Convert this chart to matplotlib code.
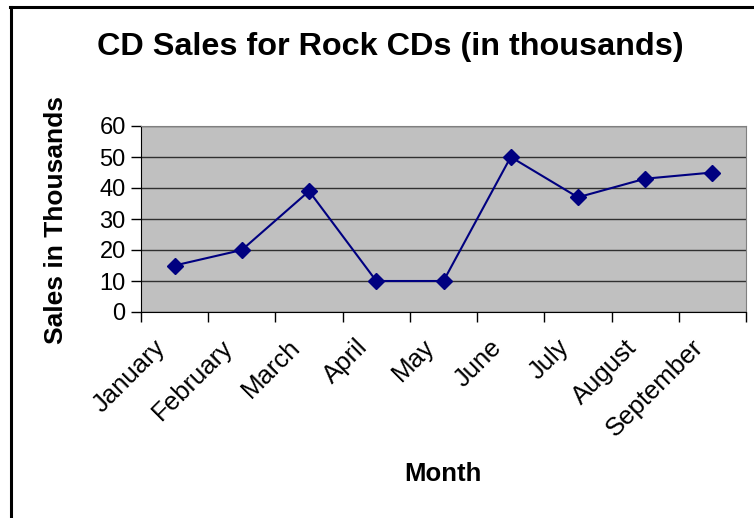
import matplotlib
matplotlib.use("Agg")
import matplotlib.pyplot as plt
from matplotlib.lines import Line2D
from matplotlib.transforms import ScaledTranslation
import numpy as np

months = ["January", "February", "March", "April", "May", "June",
          "July", "August", "September"]
sales = [15, 20, 39, 10, 10, 50, 37, 43, 45]
yticks = [0, 10, 20, 30, 40, 50, 60]

plt.rcParams['font.family'] = ['Liberation Sans', 'DejaVu Sans']

W, H = 754, 518
fig = plt.figure(figsize=(W / 100, H / 100), dpi=100)
ax = fig.add_axes([141 / W, 1 - 312 / H, (746 - 141) / W, (312 - 126) / H])
ax.set_facecolor('#C0C0C0')

x = np.arange(len(months))
ax.plot(x, sales, color='#000080', lw=1.5, marker='D', ms=8.5,
        mfc='#000080', mec='#000080', zorder=3)

ax.set_xlim(-0.5, len(months) - 0.5)
ax.set_ylim(0, 60)
ax.set_yticks(yticks)
ax.yaxis.grid(True, color='#303030', lw=1)
ax.set_axisbelow(True)

# category ticks between months, labels drawn at the centres
ax.set_xticks(np.arange(-0.5, len(months)))
ax.set_xticklabels([])
ax.tick_params(axis='x', length=7, width=1, color='black')
ax.tick_params(axis='y', length=7, width=1, labelsize=17, pad=4)
lbl_tr = ax.get_xaxis_transform() + ScaledTranslation(-21 / 100, -23 / 100,
                                                      fig.dpi_scale_trans)
for xi, m in zip(x, months):
    ax.text(xi, 0, m, transform=lbl_tr, rotation=45, ha='right', va='top',
            rotation_mode='anchor', fontsize=18.5)

for side in ['top', 'right']:
    ax.spines[side].set_color('#808080')
ax.spines['left'].set_color('black')
ax.spines['bottom'].set_color('black')

ax.set_xlabel('Month', fontsize=18.5, fontweight='bold')
ax.xaxis.set_label_coords((443 - 141) / 605, (312 - 462) / 186)
ax.set_ylabel('Sales in Thousands', fontsize=19, fontweight='bold')
ax.yaxis.set_label_coords((68 - 141) / 605, (312 - 220) / 186)

fig.text(390 / W, 1 - 47 / H, 'CD Sales for Rock CDs (in thousands)',
         fontsize=23.3, fontweight='bold', ha='center', va='center')

# outer frame (left and top edges visible)
fig.add_artist(Line2D([10.5 / W, 10.5 / W], [0, 1 - 7 / H], color='black',
                      lw=2.2, transform=fig.transFigure))
fig.add_artist(Line2D([10 / W, 752 / W], [1 - 7 / H, 1 - 7 / H], color='black',
                      lw=2.2, transform=fig.transFigure))

fig.savefig('out.png', dpi=100)
